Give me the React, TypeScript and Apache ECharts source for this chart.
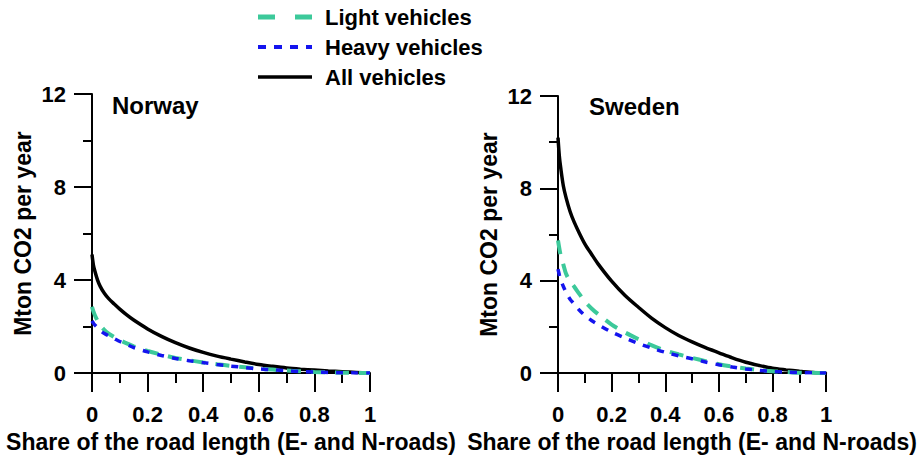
import React, { useEffect, useRef } from "react";
import * as echarts from "echarts";

const shareX = [0, 0.005, 0.01, 0.02, 0.03, 0.045, 0.06, 0.08, 0.1, 0.125, 0.15, 0.2, 0.25, 0.3, 0.35, 0.4, 0.45, 0.5, 0.55, 0.6, 0.65, 0.7, 0.75, 0.8, 0.85, 0.9, 0.95, 1];

const norwayAll = [5.1, 4.65, 4.4, 4.0, 3.72, 3.42, 3.2, 2.97, 2.75, 2.5, 2.28, 1.9, 1.58, 1.31, 1.08, 0.89, 0.73, 0.6, 0.48, 0.37, 0.29, 0.22, 0.17, 0.13, 0.09, 0.06, 0.03, 0];
const norwayLight = [2.85, 2.65, 2.5, 2.25, 2.05, 1.85, 1.7, 1.55, 1.42, 1.28, 1.15, 0.95, 0.79, 0.65, 0.55, 0.46, 0.38, 0.31, 0.25, 0.19, 0.15, 0.11, 0.08, 0.05, 0.035, 0.02, 0.01, 0];
const norwayHeavy = [2.25, 2.15, 2.07, 1.95, 1.83, 1.7, 1.6, 1.48, 1.36, 1.23, 1.1, 0.91, 0.76, 0.63, 0.53, 0.45, 0.37, 0.3, 0.24, 0.18, 0.14, 0.1, 0.07, 0.04, 0.025, 0.015, 0.007, 0];

const swedenAll = [10.2, 9.4, 8.9, 8.1, 7.6, 7.0, 6.55, 6.05, 5.6, 5.15, 4.72, 3.98, 3.36, 2.85, 2.37, 1.97, 1.63, 1.35, 1.1, 0.88, 0.66, 0.47, 0.33, 0.21, 0.14, 0.08, 0.03, 0];
const swedenLight = [5.75, 5.4, 5.1, 4.7, 4.3, 3.98, 3.75, 3.42, 3.1, 2.8, 2.55, 2.1, 1.76, 1.47, 1.2, 0.98, 0.81, 0.66, 0.52, 0.38, 0.28, 0.2, 0.13, 0.08, 0.05, 0.02, 0.01, 0];
const swedenHeavy = [4.5, 4.25, 4.05, 3.75, 3.5, 3.2, 3.0, 2.72, 2.5, 2.28, 2.1, 1.78, 1.52, 1.28, 1.08, 0.9, 0.75, 0.62, 0.48, 0.36, 0.26, 0.18, 0.12, 0.07, 0.04, 0.02, 0.01, 0];

const panelTitles = ["Norway", "Sweden"];
const seriesNames = ["Light vehicles", "Heavy vehicles", "All vehicles"];
const yTicks = { min: 0, max: 12, interval: 4 };
const xTicks = { min: 0, max: 1, interval: 0.2 };
const yName = "Mton CO2 per year";
const xName = "Share of the road length (E- and N-roads)";

const FONT = "Liberation Sans, Arial, sans-serif";

function pairs(vals: number[]) {
  return shareX.map((x, i) => [x, vals[i]]);
}

export default function App() {
  const ref = useRef<HTMLDivElement>(null);
  useEffect(() => {
    if (!ref.current) return;
    const chart = echarts.init(ref.current, null, { renderer: "svg" });
    const txt = { fontFamily: FONT, fontWeight: "bold" as const, color: "#000", fontSize: 22 };
    const mkX = (gi: number) => ({
      type: "value",
      gridIndex: gi,
      min: xTicks.min,
      max: xTicks.max,
      interval: xTicks.interval,
      name: xName,
      nameLocation: "middle",
      nameGap: 56,
      nameTextStyle: { ...txt, fontSize: 23 },
      axisLine: { show: true, lineStyle: { color: "#000", width: 2 } },
      axisTick: { show: true, inside: false, length: 19, lineStyle: { color: "#000", width: 2 } },
      minorTick: { show: true, splitNumber: 2, length: 10, lineStyle: { color: "#000", width: 2 } },
      axisLabel: { ...txt, margin: 30 },
      splitLine: { show: false },
      minorSplitLine: { show: false },
    });
    const mkY = (gi: number) => ({
      type: "value",
      gridIndex: gi,
      min: yTicks.min,
      max: yTicks.max,
      interval: yTicks.interval,
      name: yName,
      nameLocation: "middle",
      nameGap: 58,
      nameTextStyle: { ...txt, fontSize: 23 },
      axisLine: { show: true, lineStyle: { color: "#000", width: 2 } },
      axisTick: { show: true, inside: false, length: 18, lineStyle: { color: "#000", width: 2 } },
      minorTick: { show: true, splitNumber: 2, length: 9, lineStyle: { color: "#000", width: 2 } },
      axisLabel: { ...txt, margin: 26 },
      splitLine: { show: false },
      minorSplitLine: { show: false },
    });
    const data = [
      [norwayLight, norwayHeavy, norwayAll],
      [swedenLight, swedenHeavy, swedenAll],
    ];
    const styles = [
      { color: "#3cc99a", width: 4, dash: [14, 10] as any },
      { color: "#1414ee", width: 3.5, dash: [7, 8] as any },
      { color: "#000000", width: 3.5, dash: null as any },
    ];
    const series: any[] = [];
    for (let g = 0; g < 2; g++) {
      for (let s = 0; s < 3; s++) {
        series.push({
          type: "line",
          name: seriesNames[s],
          xAxisIndex: g,
          yAxisIndex: g,
          data: pairs(data[g][s]),
          smooth: 0.3,
          showSymbol: false,
          symbol: "none",
          color: styles[s].color,
          lineStyle: {
            color: styles[s].color,
            width: styles[s].width,
            type: styles[s].dash || "solid",
          },
          z: s === 2 ? 2 : 3 + s,
        });
      }
    }
    const legendEls: any[] = [];
    seriesNames.forEach((n, i) => {
      const y = 17 + i * 30;
      legendEls.push({
        type: "line",
        shape: { x1: 258, y1: y, x2: 312, y2: y },
        style: {
          stroke: styles[i].color,
          lineWidth: i === 0 ? 5 : i === 1 ? 4 : 3.5,
          lineDash: i === 0 ? [17, 20] : i === 1 ? [8, 8] : null,
        },
      });
      legendEls.push({
        type: "text",
        x: 325,
        y: y,
        style: {
          text: n,
          font: `bold 22px ${FONT}`,
          fill: "#000",
          verticalAlign: "middle",
          align: "left",
        },
      });
    });
    chart.setOption({
      animation: false,
      backgroundColor: "#fff",
      title: [
        { text: panelTitles[0], left: 112, top: 93, padding: 0, textStyle: { ...txt, fontSize: 24 } },
        { text: panelTitles[1], left: 589, top: 94, padding: 0, textStyle: { ...txt, fontSize: 24 } },
      ],
      graphic: legendEls,
      grid: [
        { left: 92, top: 94, width: 278, height: 280 },
        { left: 558, top: 96, width: 278, height: 280 },
      ],
      xAxis: [mkX(0), mkX(1)],
      yAxis: [mkY(0), mkY(1)],
      series,
    });
    return () => chart.dispose();
  }, []);
  return (
    <div
      ref={ref}
      style={{ position: "fixed", left: 0, top: 0, width: 920, height: 458, background: "#fff" }}
    />
  );
}
